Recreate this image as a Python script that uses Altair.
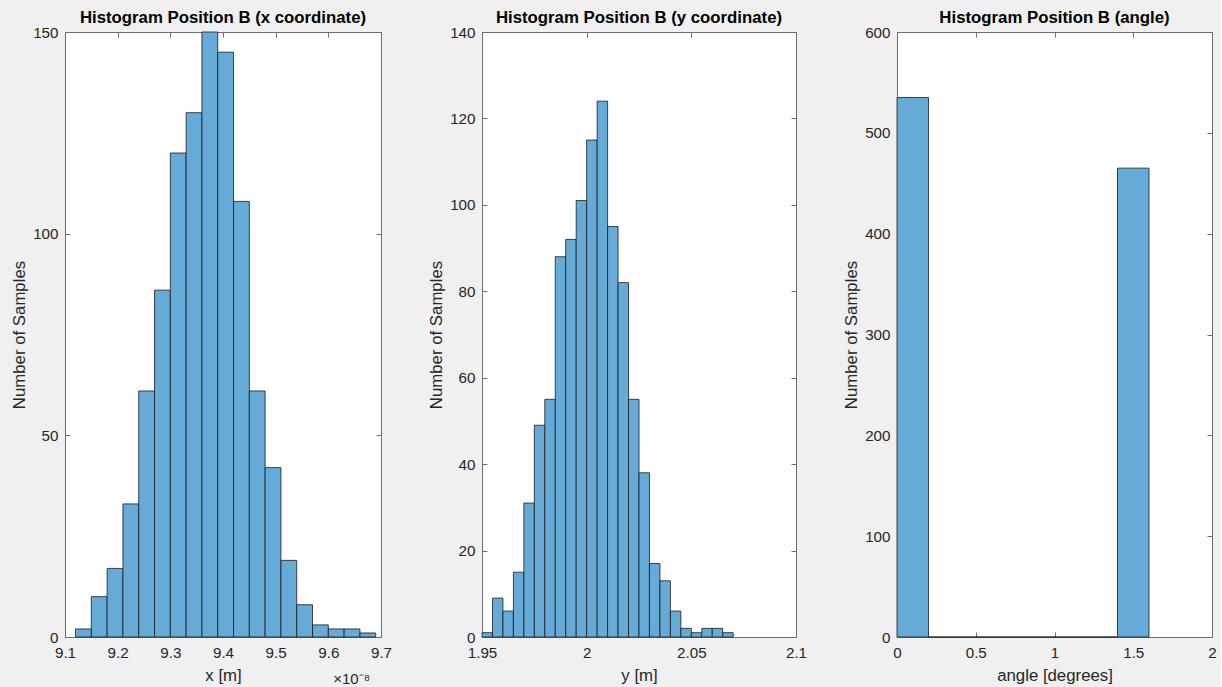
import altair as alt
import pandas as pd

# Position B, x coordinate (bin edges in units of 1e-8 m)
x_bin_edges = [9.12, 9.15, 9.18, 9.21, 9.24, 9.27, 9.30, 9.33, 9.36, 9.39,
               9.42, 9.45, 9.48, 9.51, 9.54, 9.57, 9.60, 9.63, 9.66, 9.69]
x_counts = [2, 10, 17, 33, 61, 86, 120, 130, 150, 145, 108, 61, 42, 19, 8, 3, 2, 2, 1]
x_axis_ticks = [9.1, 9.2, 9.3, 9.4, 9.5, 9.6, 9.7]
x_count_ticks = [0, 50, 100, 150]

# Position B, y coordinate (bin edges in m)
y_bin_edges = [1.950, 1.955, 1.960, 1.965, 1.970, 1.975, 1.980, 1.985, 1.990,
               1.995, 2.000, 2.005, 2.010, 2.015, 2.020, 2.025, 2.030, 2.035,
               2.040, 2.045, 2.050, 2.055, 2.060, 2.065, 2.070]
y_counts = [1, 9, 6, 15, 31, 49, 55, 88, 92, 101, 115, 124,
            95, 82, 55, 38, 17, 13, 6, 2, 1, 2, 2, 1]
y_axis_ticks = [1.95, 2.0, 2.05, 2.1]
y_count_ticks = [0, 20, 40, 60, 80, 100, 120, 140]

# Position B, angle (bin edges in degrees)
angle_bin_edges = [0.0, 0.2, 0.4, 0.6, 0.8, 1.0, 1.2, 1.4, 1.6]
angle_counts = [535, 0, 0, 0, 0, 0, 0, 465]
angle_axis_ticks = [0, 0.5, 1, 1.5, 2]
angle_count_ticks = [0, 100, 200, 300, 400, 500, 600]

FONT = "Liberation Sans"
BAR_FILL = "#66aad7"
BAR_EDGE = "#1a1a1a"
BOX = "#6e6e6e"
TEXT = "#262626"
PLOT_H = 605
LABEL_SIZE = 15.2
TITLE_SIZE = 16.8


def axis_style(orient, values, fmt, title=None, labels=True, pad=8, title_pad=4):
    kw = dict(
        orient=orient, values=values, format=fmt, domain=False,
        tickSize=5, offset=-5, tickColor=BOX, tickWidth=1,
        labels=labels, labelFont=FONT, labelFontSize=LABEL_SIZE, labelColor=TEXT,
        labelPadding=pad, labelFlush=False, labelOverlap=False,
        grid=False,
    )
    if title is not None:
        kw.update(title=title, titleFont=FONT, titleFontSize=TITLE_SIZE,
                  titleFontWeight="normal", titleColor=TEXT, titlePadding=title_pad)
    else:
        kw.update(title=None)
    return alt.Axis(**kw)


def histogram(edges, counts, x_domain, x_ticks, y_domain, y_ticks,
              title, x_title, width, exponent=None):
    df = pd.DataFrame({"lo": edges[:-1], "hi": edges[1:], "n": counts})
    xs = alt.Scale(domain=x_domain, nice=False, zero=False)
    ys = alt.Scale(domain=y_domain, nice=False, zero=False)

    bars = alt.Chart(df).mark_rect(
        fill=BAR_FILL, stroke=BAR_EDGE, strokeWidth=0.8
    ).encode(
        x=alt.X("lo:Q", scale=xs,
                axis=axis_style("bottom", x_ticks, ".2~f", x_title, pad=8, title_pad=7)),
        x2="hi:Q",
        y=alt.Y("n:Q", scale=ys,
                axis=axis_style("left", y_ticks, "d", "Number of Samples", pad=7, title_pad=4)),
        y2=alt.datum(0),
    )

    # tick marks on the top and right edges of the box
    mirror = alt.Chart(df).mark_point(opacity=0).encode(
        x=alt.X("lo:Q", scale=xs, axis=axis_style("top", x_ticks, ".2~f", labels=False, pad=0)),
        y=alt.Y("n:Q", scale=ys, axis=axis_style("right", y_ticks, "d", labels=False, pad=0)),
    )

    layers = [bars, mirror]
    if exponent is not None:
        exp_df = pd.DataFrame({"pos": [x_domain[1]], "txt": [exponent]})
        layers.append(
            alt.Chart(exp_df).mark_text(
                align="right", baseline="middle", font=FONT, fontSize=15,
                color=TEXT, dx=-11,
            ).encode(
                x=alt.X("pos:Q", scale=xs, axis=None),
                y=alt.value(PLOT_H + 42),
                text="txt:N",
            )
        )

    return alt.layer(*layers).resolve_axis(x="independent", y="independent").properties(
        width=width, height=PLOT_H,
        title=alt.TitleParams(title, font=FONT, fontSize=TITLE_SIZE, fontWeight="bold",
                              color="#000000", anchor="middle", offset=-2),
    )


p1 = histogram(x_bin_edges, x_counts, [9.1, 9.7], x_axis_ticks, [0, 150], x_count_ticks,
               "Histogram Position B (x coordinate)", "x [m]", 316, exponent="×10⁻⁸")
p2 = histogram(y_bin_edges, y_counts, [1.95, 2.1], y_axis_ticks, [0, 140], y_count_ticks,
               "Histogram Position B (y coordinate)", "y [m]", 314)
p3 = histogram(angle_bin_edges, angle_counts, [0, 2], angle_axis_ticks, [0, 600], angle_count_ticks,
               "Histogram Position B (angle)", "angle [degrees]", 315)

chart = alt.hconcat(p1, p2, p3, spacing=101, bounds="flush").properties(
    background="#f0f0f0",
    padding={"left": 11, "top": 9, "right": 4, "bottom": 0},
).configure_view(
    fill="white", stroke=BOX, strokeWidth=1,
)

chart.save("out.html", embed_options={"renderer": "svg", "actions": False})
